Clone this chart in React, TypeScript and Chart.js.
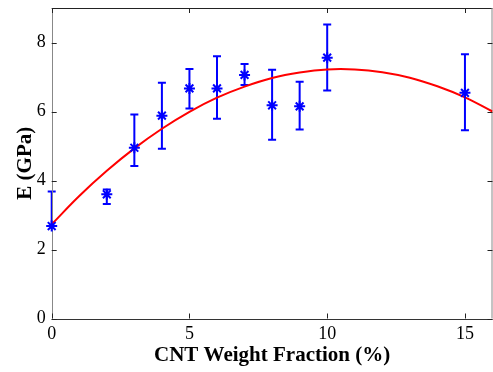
import React, { useEffect, useRef } from "react";
import { Chart, registerables } from "chart.js";

Chart.register(...registerables);

// Measured data (CNT weight fraction %, Young's modulus GPa)
const fractionX = [0, 2, 3, 4, 5, 6, 7, 8, 9, 10, 15];
const meanE = [2.68, 3.6, 4.95, 5.88, 6.67, 6.67, 7.06, 6.18, 6.15, 7.56, 6.54];
const lowE = [2.68, 3.32, 4.42, 4.92, 6.09, 5.79, 6.77, 5.18, 5.48, 6.61, 5.46];
const highE = [3.68, 3.74, 5.91, 6.83, 7.23, 7.6, 7.38, 7.21, 6.86, 8.52, 7.66];

// Fitted curve
const fitX = [0, 1, 2, 3, 4, 5, 6, 7, 8, 9, 10, 11, 12, 13, 14, 15, 16];
const fitE = [2.73, 3.55, 4.28, 4.93, 5.5, 5.99, 6.4, 6.72, 6.97, 7.13, 7.22, 7.22, 7.14, 6.98, 6.73, 6.41, 6.0];

const xTicks = [0, 5, 10, 15];
const yTicks = [0, 2, 4, 6, 8];

const SERIF = "'Liberation Serif', 'Times New Roman', serif";

const errorBarPlugin = {
  id: "errorBars",
  beforeDatasetsDraw(chart: any) {
    const { ctx, chartArea, scales } = chart;
    const xs = scales.x;
    const ys = scales.y;
    const tl = 5;
    ctx.save();

    // error bars
    ctx.strokeStyle = "#0000ff";
    ctx.lineWidth = 2;
    const cap = 4;
    fractionX.forEach((xv, i) => {
      const px = xs.getPixelForValue(xv);
      const pLo = ys.getPixelForValue(lowE[i]);
      const pHi = ys.getPixelForValue(highE[i]);
      ctx.beginPath();
      ctx.moveTo(px, pLo);
      ctx.lineTo(px, pHi);
      if (lowE[i] < meanE[i]) {
        ctx.moveTo(px - cap, pLo);
        ctx.lineTo(px + cap, pLo);
      }
      ctx.moveTo(px - cap, pHi);
      ctx.lineTo(px + cap, pHi);
      ctx.stroke();
    });

    // frame
    ctx.lineWidth = 1;
    ctx.strokeStyle = "#222";
    ctx.beginPath();
    ctx.moveTo(chartArea.left, Math.round(chartArea.top) + 0.5);
    ctx.lineTo(chartArea.right, Math.round(chartArea.top) + 0.5);
    ctx.stroke();
    ctx.strokeStyle = "#333";
    ctx.beginPath();
    ctx.moveTo(chartArea.left, Math.round(chartArea.bottom) + 0.5);
    ctx.lineTo(chartArea.right, Math.round(chartArea.bottom) + 0.5);
    ctx.stroke();
    ctx.strokeStyle = "#888";
    ctx.beginPath();
    ctx.moveTo(Math.round(chartArea.left) + 0.5, chartArea.top);
    ctx.lineTo(Math.round(chartArea.left) + 0.5, chartArea.bottom);
    ctx.moveTo(chartArea.right - 0.5, chartArea.top);
    ctx.lineTo(chartArea.right - 0.5, chartArea.bottom);
    ctx.stroke();
    ctx.strokeStyle = "#222";
    ctx.beginPath();
    xTicks.forEach((v) => {
      const px = Math.round(xs.getPixelForValue(v)) + 0.5;
      ctx.moveTo(px, chartArea.bottom);
      ctx.lineTo(px, chartArea.bottom - tl);
      ctx.moveTo(px, chartArea.top);
      ctx.lineTo(px, chartArea.top + tl);
    });
    yTicks.forEach((v) => {
      const py = Math.round(ys.getPixelForValue(v)) + 0.5;
      ctx.moveTo(chartArea.left, py);
      ctx.lineTo(chartArea.left + tl, py);
      ctx.moveTo(chartArea.right, py);
      ctx.lineTo(chartArea.right - tl, py);
    });
    ctx.stroke();
    ctx.restore();
  },
};

export default function App() {
  const ref = useRef<HTMLCanvasElement | null>(null);
  useEffect(() => {
    if (!ref.current) return;
    const chart = new Chart(ref.current, {
      type: "scatter",
      data: {
        datasets: [
          {
            label: "E",
            data: fractionX.map((x, i) => ({ x, y: meanE[i] })),
            pointStyle: "star",
            pointRadius: 5.5,
            pointBorderWidth: 2,
            borderColor: "#0000ff",
            backgroundColor: "#0000ff",
            showLine: false,
            clip: false,
          } as any,
          {
            label: "fit",
            data: fitX.map((x, i) => ({ x, y: fitE[i] })),
            showLine: true,
            pointRadius: 0,
            borderColor: "#ff0000",
            borderWidth: 2,
            tension: 0.4,
            fill: false,
          } as any,
        ],
      },
      options: {
        responsive: false,
        animation: false,
        devicePixelRatio: 1,
        layout: { padding: { top: 8, right: 2.4, left: 0, bottom: 0 } },
        plugins: { legend: { display: false }, tooltip: { enabled: false } },
        scales: {
          x: {
            type: "linear",
            min: 0,
            max: 16,
            grid: { display: false, drawTicks: false },
            border: { display: false },
            afterBuildTicks: (s: any) => {
              s.ticks = xTicks.map((v) => ({ value: v }));
            },
            afterFit: (s: any) => {
              s.height = 53.5;
              s.paddingLeft = 0;
              s.paddingRight = 0;
            },
            ticks: {
              padding: 5,
              color: "#000",
              font: { family: SERIF, size: 18 },
              maxRotation: 0,
            },
            title: {
              display: true,
              text: "CNT Weight Fraction (%)",
              color: "#000",
              font: { family: SERIF, size: 21, weight: "bold" },
              padding: { top: 0, bottom: 4 },
            },
          },
          y: {
            type: "linear",
            min: 0,
            max: 9,
            grid: { display: false, drawTicks: false },
            border: { display: false },
            afterBuildTicks: (s: any) => {
              s.ticks = yTicks.map((v) => ({ value: v }));
            },
            afterFit: (s: any) => {
              s.width = 51.7;
              s.paddingTop = 0;
              s.paddingBottom = 0;
            },
            ticks: {
              padding: 6,
              color: "#000",
              font: { family: SERIF, size: 18 },
            },
            title: {
              display: true,
              text: "E (GPa)",
              color: "#000",
              font: { family: SERIF, size: 21, weight: "bold" },
              padding: { top: 13, bottom: 0 },
            },
          },
        },
      },
      plugins: [errorBarPlugin],
    });
    return () => chart.destroy();
  }, []);
  return (
    <div
      style={{
        position: "fixed",
        left: 0,
        top: 0,
        width: 493,
        height: 372,
        overflow: "hidden",
        background: "#fff",
      }}
    >
      <canvas ref={ref} width={500} height={372} style={{ width: 500, height: 372, display: "block" }} />
    </div>
  );
}
